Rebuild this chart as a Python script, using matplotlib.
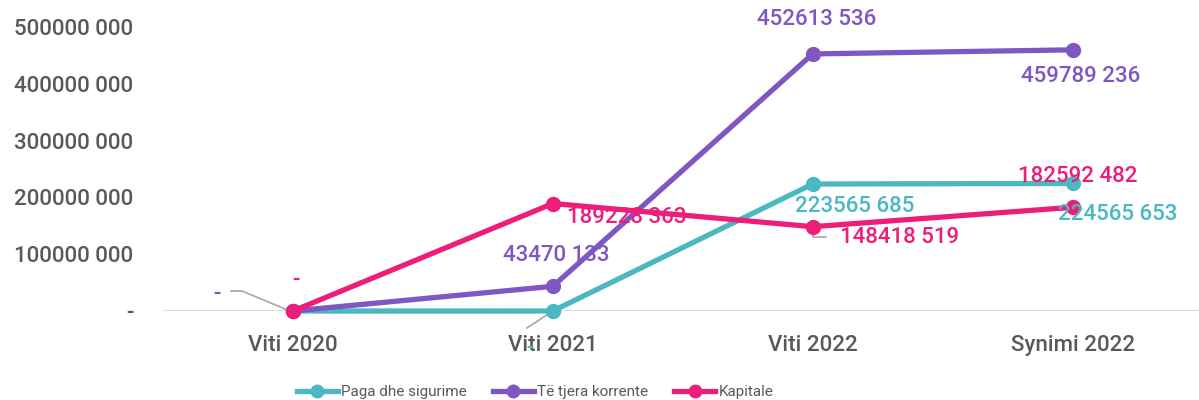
import matplotlib
matplotlib.use("Agg")
import matplotlib.pyplot as plt
from matplotlib.lines import Line2D

categories = ["Viti 2020", "Viti 2021", "Viti 2022", "Synimi 2022"]
series_names = ["Paga dhe sigurime", "Të tjera korrente", "Kapitale"]
paga = [0, 0, 223565685, 224565653]
tjera = [0, 43470133, 452613536, 459789236]
kapitale = [0, 189228363, 148418519, 182592482]
yticks = [0, 100000000, 200000000, 300000000, 400000000, 500000000]
ytick_labels = ["-", "100000 000", "200000 000", "300000 000", "400000 000", "500000 000"]

colors = ["#4BB7C1", "#7E57C2", "#EC1E79"]
FONT = "Roboto"
plt.rcParams["font.family"] = [FONT, "DejaVu Sans"]


def fmt(v):
    if v == 0:
        return "-"
    s = f"{v:d}"
    return s[:-3] + " " + s[-3:]


fig = plt.figure(figsize=(11.99, 4.0), dpi=100)
ax = fig.add_axes([163 / 1199, 89 / 400, 1 - 163 / 1199 + 0.003, (373 - 89) / 400])
ax.set_xlim(-0.5, 3.5)
ax.set_ylim(0, 500000000)

x = list(range(len(categories)))
all_series = [paga, tjera, kapitale]
for vals, c, z in zip(all_series, colors, [3, 4, 5]):
    ax.plot(x, vals, color=c, lw=3.8, marker="o", ms=10, zorder=z, clip_on=False,
            solid_capstyle="round")

ax.axhline(0, color="#d9d9d9", lw=1.5, zorder=1)

for s in ["top", "right", "left", "bottom"]:
    ax.spines[s].set_visible(False)
ax.set_xticks(x)
ax.set_xticklabels(categories, fontsize=16, color="#595959", fontweight="medium")
ax.set_yticks(yticks)
ax.set_yticklabels(ytick_labels, fontsize=16, color="#595959", fontweight="medium")
ax.tick_params(axis="both", length=0)
ax.tick_params(axis="x", pad=17.5)
ax.tick_params(axis="y", pad=21.5)

# data labels: (series index, point index, dx px, dy px, ha)
label_pos = [
    (1, 1, 3, 31, "center"),
    (2, 1, 14, -14, "left"),
    (1, 2, 4, 34, "center"),
    (2, 2, 27, -11, "left"),
    (0, 2, -18, -22, "left"),
    (1, 3, 8, -27, "center"),
    (2, 3, -55, 31, "left"),
    (0, 3, -15, -31, "left"),
    (1, 0, -76, 17, "center"),
    (2, 0, 3, 30, "center"),
    (0, 1, -23, -38, "center"),
]
for si, pi, dx, dy, ha in label_pos:
    v = all_series[si][pi]
    ax.annotate(fmt(v), xy=(pi, v), xytext=(dx, dy), textcoords="offset pixels",
                ha=ha, va="center", fontsize=16, color=colors[si],
                fontweight="medium", zorder=6, annotation_clip=False)


def leader(pi, v, pts, z=2):
    tr = ax.transData
    bx, by = tr.transform((pi, v))
    xs, ys = [], []
    for dx, dy in pts:
        X, Y = tr.inverted().transform((bx + dx, by + dy))
        xs.append(X)
        ys.append(Y)
    ax.plot(xs, ys, color="#a6a6a6", lw=1.2, zorder=z, clip_on=False)


fig.canvas.draw()
leader(0, 0, [(-62, 20), (-51, 20), (-3, 0)])
leader(1, 0, [(-26, -17), (0, 0)])
leader(2, 148418519, [(0, -2), (0, -10), (13, -10)])

handles = [Line2D([0], [0], color=c, lw=3.8, marker="o", ms=9) for c in colors]
fig.legend(handles, series_names, loc="center", bbox_to_anchor=(535 / 1199, 0.02),
           ncol=3, frameon=False, fontsize=11, handlelength=2.7, handletextpad=0.2,
           columnspacing=1.7, labelcolor="#595959")

fig.savefig("out.png", dpi=100)
